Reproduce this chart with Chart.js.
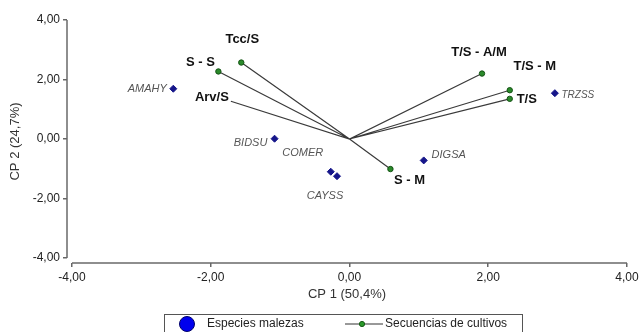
<!DOCTYPE html>
<html>
<head>
<meta charset="utf-8">
<script src="https://cdn.jsdelivr.net/npm/chart.js@4/dist/chart.umd.min.js"></script>
<style>
  html, body { margin: 0; padding: 0; background: #fff; overflow: hidden; }
  #wrap { width: 642px; height: 332px; }
</style>
</head>
<body>
<div id="wrap"><canvas id="myChart" width="642" height="332"></canvas></div>
<script>
// especies malezas (CP1, CP2)
const especies = ['AMAHY', 'BIDSU', 'COMER', 'CAYSS', 'DIGSA', 'TRZSS'];
const especiesX = [-2.54, -1.08, -0.27, -0.18, 1.07, 2.96];
const especiesY = [1.69, 0.01, -1.10, -1.25, -0.72, 1.54];

// secuencias de cultivos (vectores desde el origen)
const secuencias = ['Tcc/S', 'S - S', 'Arv/S', 'T/S - A/M', 'T/S - M', 'T/S', 'S - M'];
const secuenciasX = [-1.56, -1.89, -1.71, 1.91, 2.31, 2.31, 0.59];
const secuenciasY = [2.57, 2.27, 1.27, 2.20, 1.64, 1.35, -1.01];

const tickValues = [-4, -2, 0, 2, 4];
const ejeX = 'CP 1 (50,4%)';
const ejeY = 'CP 2 (24,7%)';

// desplazamiento de las etiquetas respecto al punto (px)
const offEspecies = [[-26, 0], [-24, 4], [-28, -19], [-12, 20], [25, -5], [23, 2]];
const offSecuencias = [[1, -23], [-18, -9], [-19, -4], [-3, -21], [25, -24], [17, 1], [19, 11]];

const FONT = '"Liberation Sans", Arial, sans-serif';

function fmt(v) {
    return v.toFixed(2).replace('.', ',');
}

function getEspeciesData() {
    return especies.map((e, i) => ({x: especiesX[i], y: especiesY[i]}));
}

function getRayos() {
    // origen -> punto -> origen -> punto ...
    let arr = [];
    secuencias.forEach((s, i) => {
        arr.push({x: 0, y: 0});
        arr.push({x: secuenciasX[i], y: secuenciasY[i]});
    });
    return arr;
}

const etiquetasPlugin = {
    id: 'etiquetas',
    afterDatasetsDraw(chart) {
        const ctx = chart.ctx;
        const xs = chart.scales.x, ys = chart.scales.y;
        const area = chart.chartArea;
        ctx.save();
        // ejes desplazados
        ctx.strokeStyle = '#6a6a6a';
        ctx.lineWidth = 1.5;
        ctx.beginPath();
        ctx.moveTo(xs.getPixelForValue(-4), area.bottom);
        ctx.lineTo(xs.getPixelForValue(4), area.bottom);
        ctx.moveTo(area.left, ys.getPixelForValue(4));
        ctx.lineTo(area.left, ys.getPixelForValue(-4));
        ctx.stroke();

        ctx.textAlign = 'center';
        ctx.textBaseline = 'middle';
        ctx.fillStyle = '#555';
        especies.forEach((e, i) => {
            let px = xs.getPixelForValue(especiesX[i]);
            let py = ys.getPixelForValue(especiesY[i]);
            if (e === 'TRZSS') ctx.font = 'italic 10px ' + FONT;
            else ctx.font = 'italic 11px ' + FONT;
            ctx.fillText(e, px + offEspecies[i][0], py + offEspecies[i][1]);
        });
        ctx.font = 'bold 13px ' + FONT;
        ctx.fillStyle = '#111';
        secuencias.forEach((s, i) => {
            let px = xs.getPixelForValue(secuenciasX[i]);
            let py = ys.getPixelForValue(secuenciasY[i]);
            ctx.fillText(s, px + offSecuencias[i][0], py + offSecuencias[i][1]);
        });

        // leyenda
        const lx = 164, ly = 314;
        ctx.strokeStyle = '#555';
        ctx.lineWidth = 1;
        ctx.strokeRect(lx + 0.5, ly + 0.5, 358, 40);
        ctx.beginPath();
        ctx.arc(187, 324, 7.5, 0, Math.PI * 2);
        ctx.fillStyle = '#0000ee';
        ctx.fill();
        ctx.strokeStyle = '#00006a';
        ctx.stroke();
        ctx.beginPath();
        ctx.moveTo(345, 324);
        ctx.lineTo(383, 324);
        ctx.strokeStyle = '#333';
        ctx.stroke();
        ctx.beginPath();
        ctx.arc(362, 324, 2.6, 0, Math.PI * 2);
        ctx.fillStyle = '#2a9a2a';
        ctx.fill();
        ctx.strokeStyle = '#155a15';
        ctx.stroke();
        ctx.font = '12px ' + FONT;
        ctx.fillStyle = '#222';
        ctx.textAlign = 'left';
        ctx.fillText(chart.data.datasets[0].label, 207, 324);
        ctx.fillText(chart.data.datasets[1].label, 385, 324);
        ctx.restore();
    }
};

function drawChart() {
    const ctx = document.getElementById('myChart');
    new Chart(ctx, {
        type: 'scatter',
        data: {
            datasets: [
                {
                    label: 'Especies malezas',
                    data: getEspeciesData(),
                    pointStyle: 'rectRot',
                    pointRadius: 3.5,
                    backgroundColor: '#16168a',
                    borderColor: '#16168a',
                    borderWidth: 1
                },
                {
                    label: 'Secuencias de cultivos',
                    data: getRayos(),
                    showLine: true,
                    borderColor: '#3a3a3a',
                    borderWidth: 1.2,
                    pointRadius: c => (c.dataIndex % 2 === 0 || secuencias[(c.dataIndex - 1) / 2] === 'Arv/S') ? 0 : 2.7,
                    pointBackgroundColor: '#2a8a2a',
                    pointBorderColor: '#145214',
                    pointBorderWidth: 1
                }
            ]
        },
        options: {
            responsive: false,
            animation: false,
            layout: {padding: {top: 20, right: 15, bottom: 30, left: 0}},
            plugins: {
                legend: {display: false},
                tooltip: {enabled: false}
            },
            scales: {
                x: {
                    type: 'linear',
                    min: -4.072,
                    max: 4,
                    afterBuildTicks: s => { s.ticks = tickValues.map(v => ({value: v})); },
                    afterFit: s => { s.height = 39; },
                    border: {display: false},
                    grid: {drawOnChartArea: false, tickLength: 4, color: '#666', lineWidth: 1.5},
                    ticks: {
                        padding: 3,
                        color: '#222',
                        font: {family: FONT, size: 12},
                        callback: v => fmt(v)
                    },
                    title: {
                        display: true,
                        text: ejeX,
                        color: '#333',
                        padding: {top: 0, bottom: 0},
                        font: {family: FONT, size: 13}
                    }
                },
                y: {
                    type: 'linear',
                    min: -4.168,
                    max: 4,
                    afterBuildTicks: s => { s.ticks = tickValues.map(v => ({value: v})); },
                    afterFit: s => { s.width = 67; },
                    border: {display: false},
                    grid: {drawOnChartArea: false, tickLength: 4, color: '#666', lineWidth: 1.5},
                    ticks: {
                        padding: 3,
                        color: '#222',
                        font: {family: FONT, size: 12},
                        callback: v => fmt(v)
                    },
                    title: {
                        display: true,
                        text: ejeY,
                        color: '#333',
                        padding: {top: 8, bottom: 0},
                        font: {family: FONT, size: 13}
                    }
                }
            }
        },
        plugins: [etiquetasPlugin]
    });
}

window.addEventListener('load', evt => drawChart());
</script>
</body>
</html>
